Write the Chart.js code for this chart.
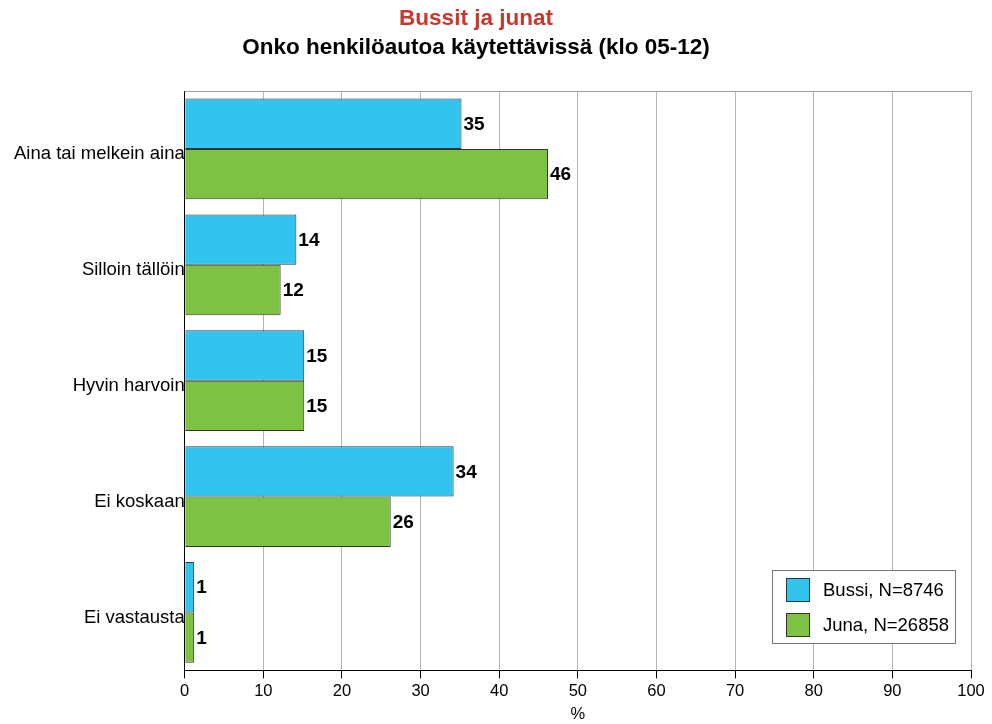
<!DOCTYPE html>
<html>
<head>
<meta charset="utf-8">
<script src="https://cdn.jsdelivr.net/npm/chart.js@4"></script>
<style>
  html, body { margin: 0; padding: 0; background: #fff; }
  #wrap { width: 992px; height: 724px; }
</style>
</head>
<body>
<div id="wrap"><canvas id="chart" width="992" height="724"></canvas></div>
<script>
// values (percent)
const categories = ["Aina tai melkein aina", "Silloin tällöin", "Hyvin harvoin", "Ei koskaan", "Ei vastausta"];
const bussiValues = [35.2, 14.2, 15.2, 34.2, 1.2];
const junaValues = [46.2, 12.2, 15.2, 26.2, 1.2];
const seriesLabels = ["Bussi, N=8746", "Juna, N=26858"];
const xTicks = [0, 10, 20, 30, 40, 50, 60, 70, 80, 90, 100];

const FONT = "Arial, 'Liberation Sans', Helvetica, sans-serif";
const blue = "#33c3ef";
const green = "#7dc242";

// titles, top border, value labels and legend box
const decorPlugin = {
  id: "decor",
  afterDraw(chart) {
    const ctx = chart.ctx;
    const area = chart.chartArea;
    ctx.save();

    // top border of plot
    ctx.strokeStyle = "#a0a0a0";
    ctx.lineWidth = 1;
    ctx.beginPath();
    ctx.moveTo(area.left, area.top + 0.5);
    ctx.lineTo(area.right, area.top + 0.5);
    ctx.stroke();

    // titles
    ctx.textAlign = "center";
    ctx.textBaseline = "middle";
    ctx.font = "bold 22.5px " + FONT;
    ctx.fillStyle = "#c8382c";
    ctx.fillText("Bussit ja junat", 476, 19);
    ctx.fillStyle = "#000";
    ctx.fillText("Onko henkilöautoa käytettävissä (klo 05-12)", 476, 48);

    // value labels
    ctx.textAlign = "left";
    ctx.font = "bold 19px " + FONT;
    chart.data.datasets.forEach((ds, i) => {
      chart.getDatasetMeta(i).data.forEach((bar, j) => {
        ctx.fillText(String(Math.round(ds.data[j])), bar.x + 2, bar.y + 1);
      });
    });

    // legend
    const lx = 772, ly = 570, lw = 183, lh = 73;
    ctx.fillStyle = "#fff";
    ctx.fillRect(lx, ly, lw, lh);
    ctx.strokeStyle = "#777";
    ctx.strokeRect(lx + 0.5, ly + 0.5, lw, lh);
    ctx.font = "18.5px " + FONT;
    chart.data.datasets.forEach((ds, i) => {
      const y = ly + 8 + i * 35;
      ctx.fillStyle = ds.backgroundColor;
      ctx.fillRect(786, y, 23, 23);
      ctx.strokeStyle = "#333";
      ctx.strokeRect(786.5, y + 0.5, 23, 23);
      ctx.fillStyle = "#000";
      ctx.fillText(ds.label, 823, y + 13);
    });
    ctx.restore();
  },
};

new Chart(document.getElementById("chart"), {
  type: "bar",
  data: {
    labels: categories,
    datasets: [
      {
        label: seriesLabels[0],
        data: bussiValues,
        backgroundColor: blue,
        borderColor: "#333",
        borderWidth: 1,
        categoryPercentage: 0.87,
        barPercentage: 1,
      },
      {
        label: seriesLabels[1],
        data: junaValues,
        backgroundColor: green,
        borderColor: "#333",
        borderWidth: 1,
        categoryPercentage: 0.87,
        barPercentage: 1,
      },
    ],
  },
  options: {
    indexAxis: "y",
    responsive: false,
    animation: false,
    layout: { padding: { top: 91, left: 14, right: 21, bottom: 0 } },
    plugins: {
      legend: { display: false },
      title: { display: false },
      tooltip: { enabled: false },
    },
    scales: {
      x: {
        min: 0,
        max: 100,
        afterBuildTicks: (axis) => {
          axis.ticks = xTicks.map((v) => ({ value: v }));
        },
        grid: {
          color: "#b4b4b4",
          tickColor: "#000",
          tickLength: 8,
          drawTicks: true,
        },
        border: { color: "#000", width: 1 },
        ticks: {
          color: "#000",
          font: { family: FONT, size: 16.5 },
          padding: 3,
          maxRotation: 0,
        },
        title: {
          display: true,
          text: "%",
          color: "#000",
          font: { family: FONT, size: 16.5 },
          padding: { top: 0, bottom: 0 },
        },
      },
      y: {
        grid: { display: false, drawTicks: false },
        border: { color: "#000", width: 1 },
        ticks: {
          color: "#000",
          font: { family: FONT, size: 18.5 },
          padding: 0,
          labelOffset: 5,
        },
      },
    },
  },
  plugins: [decorPlugin],
});
</script>
</body>
</html>
